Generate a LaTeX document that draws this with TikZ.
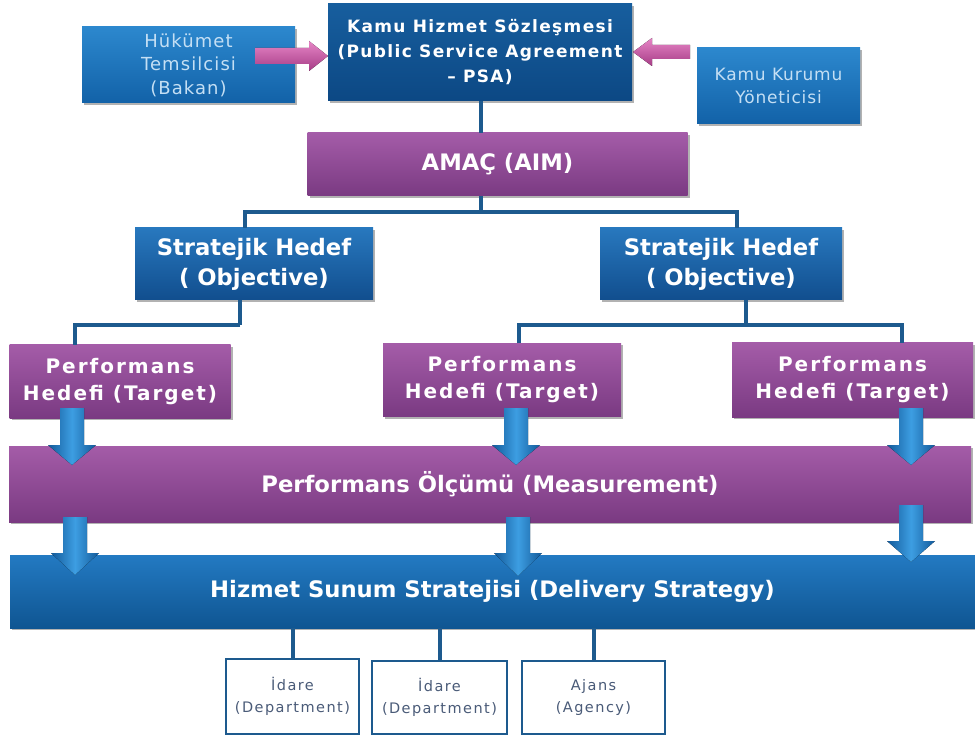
\documentclass[tikz,border=0pt]{standalone}
\usepackage{fontspec}
\setmainfont{DejaVu Sans}
\usetikzlibrary{shadows}
\definecolor{psatop}{HTML}{175E9E}
\definecolor{psabot}{HTML}{0C4884}
\definecolor{lbtop}{HTML}{2C88CE}
\definecolor{lbbot}{HTML}{1262A8}
\definecolor{objtop}{HTML}{2878BE}
\definecolor{objbot}{HTML}{114E8E}
\definecolor{deltop}{HTML}{237AC2}
\definecolor{delbot}{HTML}{0F5592}
\definecolor{purtop}{HTML}{A45CA8}
\definecolor{purbot}{HTML}{7A3A82}
\definecolor{connblue}{HTML}{1D5A8E}
\definecolor{arrlight}{HTML}{3D9EE2}
\definecolor{arrdark}{HTML}{135A9A}
\definecolor{pinklight}{HTML}{E685C6}
\definecolor{pinkdark}{HTML}{A63C86}
\definecolor{paletext}{HTML}{C4DFF4}
\definecolor{smalltext}{HTML}{4A5B78}
\newcommand\fatarrow[4]{%
  \fill[left color=arrdark, right color=arrdark, middle color=arrlight]
    (#1-12,#2) -- (#1+12,#2) -- (#1+12,#3) -- (#1+24,#3) -- (#1,#4)
    -- (#1-24,#3) -- (#1-12,#3) -- cycle;}
\begin{document}
\begin{tikzpicture}[x=1pt,y=-1pt,
  box/.style={rectangle, inner sep=0pt, align=center, text=white,
    drop shadow={shadow xshift=2pt, shadow yshift=-2pt, opacity=0.3, fill=black}},
  psabox/.style={box, top color=psatop, bottom color=psabot},
  lbbox/.style={box, top color=lbtop, bottom color=lbbot, text=paletext},
  objbox/.style={box, top color=objtop, bottom color=objbot},
  delbox/.style={box, top color=deltop, bottom color=delbot},
  purbox/.style={box, top color=purtop, bottom color=purbot},
  bigtext/.style={font=\bfseries\fontsize{22.7}{30}\selectfont},
  perftext/.style={font=\bfseries\addfontfeature{LetterSpace=10}\fontsize{20}{27}\selectfont},
  conn/.style={draw=connblue, line width=4pt},
  smallbox/.style={rectangle, draw=connblue, line width=2pt, fill=white, inner sep=0pt,
    text=smalltext, align=center, font=\addfontfeature{LetterSpace=10}\fontsize{14.5}{22}\selectfont}
]
\useasboundingbox[fill=white] (0,0) rectangle (975,735);

% top row
\node[lbbox, minimum width=213pt, minimum height=76pt,
  font=\addfontfeature{LetterSpace=6}\fontsize{18}{23.5}\selectfont] (huk) at (188.5,65) {Hükümet\\Temsilcisi\\(Bakan)};
\node[psabox, minimum width=304pt, minimum height=97pt,
  font=\bfseries\addfontfeature{LetterSpace=8}\fontsize{17}{25}\selectfont]
  (psa) at (480,52.5) {Kamu Hizmet Sözleşmesi\\(Public Service Agreement\\– PSA)};
\node[lbbox, minimum width=163pt, minimum height=76pt,
  font=\addfontfeature{LetterSpace=5}\fontsize{17}{23}\selectfont] (kur) at (778.5,86) {Kamu Kurumu\\Yöneticisi};

% pink arrows
\fill[top color=pinklight, bottom color=pinkdark]
  (255,48) -- (309,48) -- (309,41) -- (328,56) -- (309,71) -- (309,64) -- (255,64) -- cycle;
\fill[top color=pinklight, bottom color=pinkdark]
  (690,45) -- (652,45) -- (652,38) -- (633,52) -- (652,66) -- (652,59) -- (690,59) -- cycle;

% aim
\node[purbox, minimum width=380pt, minimum height=63pt, bigtext] (aim) at (497.5,164.5) {AMAÇ (AIM)};
\draw[conn] (psa.south -| 481,0) -- (aim.north -| 481,0);

% objectives
\node[objbox, minimum width=238pt, minimum height=72pt, bigtext] (obj1) at (254,264) {Stratejik Hedef\\( Objective)};
\node[objbox, minimum width=242pt, minimum height=72pt, bigtext] (obj2) at (721,264) {Stratejik Hedef\\( Objective)};
\coordinate (j1) at (481,212);
\draw[conn] (aim.south -| j1) -- (j1);
\draw[conn] (obj1.north -| 245,0) |- (j1) -| (obj2.north -| 737,0);

% performance targets
\node[purbox, minimum width=221pt, minimum height=73pt, perftext] (p1) at (120,381.5) {Performans\\Hedefi (Target)};
\node[purbox, minimum width=238pt, minimum height=73pt, perftext] (p2) at (502,380) {Performans\\Hedefi (Target)};
\node[purbox, minimum width=241pt, minimum height=74pt, perftext] (p3) at (852.5,380) {Performans\\Hedefi (Target)};
\coordinate (j2) at (240,325);
\coordinate (j3) at (746,325);
\draw[conn] (obj1.south -| j2) -- (j2);
\draw[conn] (j2) -| (p1.north -| 75,0);
\draw[conn] (obj2.south -| j3) -- (j3);
\draw[conn] (p2.north -| 519,0) |- (j3) -| (p3.north -| 902,0);

% bands
\node[purbox, minimum width=962pt, minimum height=76pt, bigtext] (meas) at (490,484) {Performans Ölçümü (Measurement)};
\node[delbox, minimum width=965pt, minimum height=73pt, bigtext] (del) at (492.5,591.5) {Hizmet Sunum Stratejisi (Delivery Strategy)};

% fat arrows
\fatarrow{72}{408}{445}{465}
\fatarrow{516}{408}{445}{465}
\fatarrow{911}{408}{445}{465}
\fatarrow{75}{517}{553}{575}
\fatarrow{518}{517}{553}{576}
\fatarrow{911}{505}{541}{562}

% units
\node[smallbox, minimum width=133pt, minimum height=75pt] (u1) at (292.5,696) {İdare\\(Department)};
\node[smallbox, minimum width=135pt, minimum height=73pt] (u2) at (439.5,697) {İdare\\(Department)};
\node[smallbox, minimum width=143pt, minimum height=73pt] (u3) at (593.5,697) {Ajans\\(Agency)};
\draw[conn] (del.south -| u1.north) -- (u1.north);
\draw[conn] (del.south -| u2.north) -- (u2.north);
\draw[conn] (del.south -| u3.north) -- (u3.north);
\end{tikzpicture}
\end{document}
